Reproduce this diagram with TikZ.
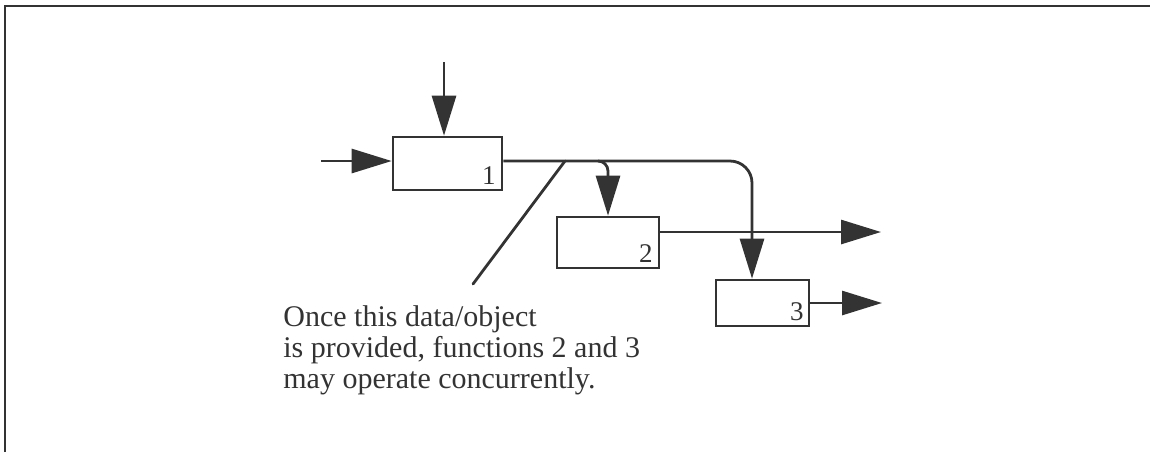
\documentclass[tikz,border=0pt]{standalone}
\usepackage{fontspec}
\setmainfont{Liberation Serif}
\usetikzlibrary{arrows.meta}
\definecolor{ink}{HTML}{333333}
\begin{document}
\begin{tikzpicture}[x=0.5pt,y=-0.5pt,
  fbox/.style={draw=ink,line width=1.3pt,minimum width=#1,inner sep=0pt},
  conn/.style={draw=ink,line width=1.4pt},
  arr/.style={conn,-{Triangle[length=20pt,width=12pt,fill=ink]}},
  num/.style={text=ink,font=\fontsize{13.5}{15}\selectfont,inner sep=0pt,anchor=base east},
  txt/.style={text=ink,font=\fontsize{15}{15.3}\selectfont,align=left,inner sep=0pt,anchor=base west}]
\useasboundingbox (0,0) rectangle (1154,452);
\draw[ink,line width=1.2pt] (5,452) -- (5,6) -- (1150,6);
% boxes
\node[fbox=54.5pt,minimum height=26.5pt] (b1) at (447.5,163.5) {};
\node[fbox=51pt,minimum height=25.5pt] (b2) at (608,242.5) {};
\node[fbox=46.5pt,minimum height=23pt] (b3) at (762.5,303) {};
\node[num] (n1) at (496,184) {1};
\node[num] (n2) at (653,262) {2};
\node[num] (n3) at (804,320) {3};
% coordinates
\coordinate (t1) at (444,62);
\coordinate (i1) at (321,161);
\coordinate (m1) at (752,161);
\coordinate (br) at (598,161);
\coordinate (o2) at (881,232);
\coordinate (o3) at (882,303);
\coordinate (d1) at (565,161);
\coordinate (d2) at (473,284);
% connectors
\draw[arr] (t1) -- (t1 |- b1.north);
\draw[arr] (i1) -- (i1 -| b1.west);
\draw[arr,rounded corners=11pt] (b1.east |- i1) -- (m1) -- (m1 |- b3.north);
\draw[arr,rounded corners=5pt] (br) -| (b2.north);
\draw[arr] (b2.east |- o2) -- (o2);
\draw[arr] (b3.east |- o3) -- (o3);
\draw[conn,line cap=round] (d1) -- (d2);
\node[txt] (note) at (283,388) {Once this data/object\\is provided, functions 2 and 3\\may operate concurrently.};
\end{tikzpicture}
\end{document}
